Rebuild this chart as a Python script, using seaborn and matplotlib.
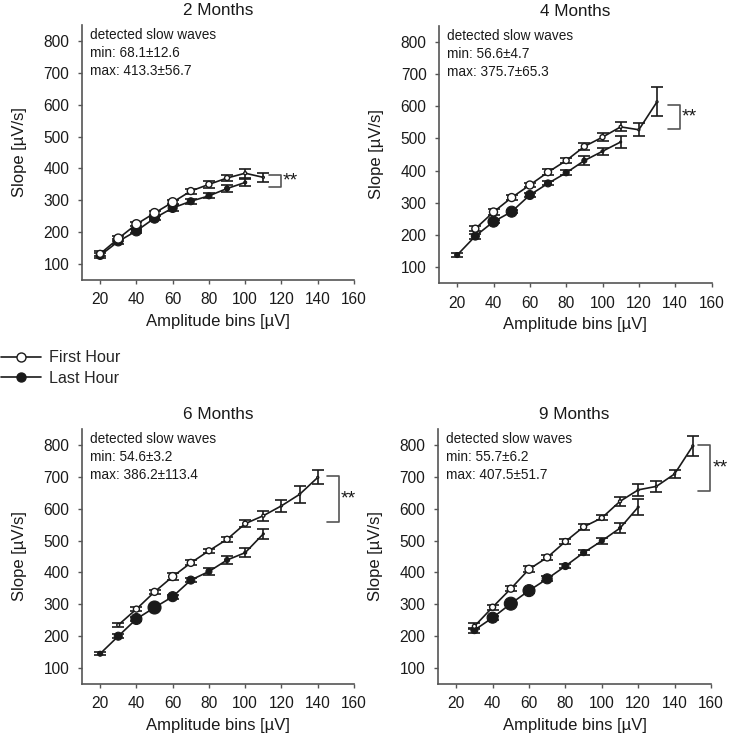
import numpy as np
import pandas as pd
import matplotlib
matplotlib.use("Agg")
import matplotlib.pyplot as plt
import seaborn as sns
from matplotlib.lines import Line2D

sns.set_style("ticks")
plt.rcParams["font.family"] = ["Liberation Sans", "DejaVu Sans"]

# ---------------- data ----------------
titles = ["2 Months", "4 Months", "6 Months", "9 Months"]
wave_min = ["68.1\u00b112.6", "56.6\u00b14.7", "54.6\u00b13.2", "55.7\u00b16.2"]
wave_max = ["413.3\u00b156.7", "375.7\u00b165.3", "386.2\u00b1113.4", "407.5\u00b151.7"]

# 2 Months
m2_first_bins = [20, 30, 40, 50, 60, 70, 80, 90, 100, 110]
m2_first_mean = [132, 180, 225, 260, 294, 329, 350, 370, 385, 372]
m2_first_err = [8, 8, 6, 6, 6, 8, 10, 8, 14, 14]
m2_last_bins = [20, 30, 40, 50, 60, 70, 80, 90, 100]
m2_last_mean = [127, 171, 204, 244, 276, 297, 314, 337, 356]
m2_last_err = [8, 7, 7, 7, 8, 7, 8, 10, 12]

# 4 Months
m4_first_bins = [30, 40, 50, 60, 70, 80, 90, 100, 110, 120, 130]
m4_first_mean = [219, 271, 316, 355, 395, 431, 475, 504, 536, 527, 614]
m4_first_err = [8, 9, 8, 7, 10, 7, 10, 12, 14, 20, 45]
m4_last_bins = [20, 30, 40, 50, 60, 70, 80, 90, 100, 110]
m4_last_mean = [137, 196, 241, 272, 324, 360, 393, 431, 460, 489]
m4_last_err = [5, 8, 5, 5, 6, 6, 8, 13, 10, 18]

# 6 Months
m6_first_bins = [30, 40, 50, 60, 70, 80, 90, 100, 110, 120, 130, 140]
m6_first_mean = [235, 285, 339, 387, 430, 468, 504, 553, 578, 609, 645, 698]
m6_first_err = [6, 6, 6, 10, 8, 6, 8, 10, 16, 18, 27, 22]
m6_last_bins = [20, 30, 40, 50, 60, 70, 80, 90, 100, 110]
m6_last_mean = [145, 200, 254, 290, 324, 376, 403, 439, 462, 521]
m6_last_err = [5, 6, 6, 6, 6, 6, 10, 14, 14, 15]

# 9 Months
m9_first_bins = [30, 40, 50, 60, 70, 80, 90, 100, 110, 120, 130, 140, 150]
m9_first_mean = [231, 291, 349, 410, 447, 497, 543, 571, 623, 659, 670, 709, 797]
m9_first_err = [10, 8, 7, 9, 8, 7, 10, 8, 15, 20, 18, 13, 32]
m9_last_bins = [30, 40, 50, 60, 70, 80, 90, 100, 110, 120]
m9_last_mean = [219, 258, 302, 343, 380, 420, 462, 499, 539, 605]
m9_last_err = [8, 6, 6, 6, 8, 6, 8, 10, 15, 25]

# ---------------- styles (marker diameters in px) ----------------
m2_first_ms = [7, 9, 9, 9, 9, 7, 6, 5, 3, 2]
m2_last_ms = [8, 9, 10, 10, 9, 7, 6, 5, 3]
m4_first_ms = [7, 8, 8, 8, 7, 6, 6, 5, 3, 2, 2]
m4_last_ms = [5, 8, 11, 11, 9, 7, 6, 5, 3, 2]
m6_first_ms = [3, 6, 7, 8, 7, 6, 6, 5, 3, 2, 2, 2]
m6_last_ms = [5, 8, 11, 13, 10, 8, 6, 5, 3, 2]
m9_first_ms = [4, 6, 7, 8, 7, 6, 6, 5, 3, 2, 2, 2, 2]
m9_last_ms = [7, 11, 13, 12, 10, 7, 6, 5, 3, 2]

panels = [
    (m2_first_bins, m2_first_mean, m2_first_err, m2_first_ms,
     m2_last_bins, m2_last_mean, m2_last_err, m2_last_ms),
    (m4_first_bins, m4_first_mean, m4_first_err, m4_first_ms,
     m4_last_bins, m4_last_mean, m4_last_err, m4_last_ms),
    (m6_first_bins, m6_first_mean, m6_first_err, m6_first_ms,
     m6_last_bins, m6_last_mean, m6_last_err, m6_last_ms),
    (m9_first_bins, m9_first_mean, m9_first_err, m9_first_ms,
     m9_last_bins, m9_last_mean, m9_last_err, m9_last_ms),
]

# significance brackets: (x0, x1, y_top, y_bottom)
brackets = [(113, 119.5, 378, 343), (136, 142.5, 605, 530),
            (145, 151.5, 702, 557), (153, 159.7, 800, 656)]

axes_rects = [
    (82 / 730, 1 - 280 / 740, 272 / 730, 255 / 740),
    (439 / 730, 1 - 283 / 740, 272.5 / 730, 257 / 740),
    (82 / 730, 1 - 684 / 740, 272 / 730, 255 / 740),
    (438 / 730, 1 - 684 / 740, 273 / 730, 255 / 740),
]

DPI = 100
px2pt = 72 / DPI
ink = "#1a1a1a"
spine_col = "#555555"

fig = plt.figure(figsize=(7.3, 7.4), dpi=DPI)

for i, rect in enumerate(axes_rects):
    ax = fig.add_axes(rect)
    fb, fm, fe, fms, lb, lm, le, lms = panels[i]
    df_f = pd.DataFrame({"bin": fb, "slope": fm})
    df_l = pd.DataFrame({"bin": lb, "slope": lm})

    for df, err in ((df_f, fe), (df_l, le)):
        sns.lineplot(data=df, x="bin", y="slope", ax=ax, color=ink, lw=1.2,
                     estimator=None, sort=False, legend=False, zorder=2)
        ax.errorbar(df["bin"], df["slope"], yerr=err, fmt="none", ecolor=ink,
                    elinewidth=1.2, capsize=4.2, capthick=1.2, zorder=3)

    sns.scatterplot(data=df_l, x="bin", y="slope", ax=ax, color=ink,
                    s=[(d * px2pt) ** 2 for d in lms], edgecolor=ink,
                    linewidth=0.8, legend=False, zorder=4)
    sns.scatterplot(data=df_f, x="bin", y="slope", ax=ax, color="white",
                    s=[(d * px2pt) ** 2 for d in fms], edgecolor=ink,
                    linewidth=1.0, legend=False, zorder=5)

    x0, x1, yt, yb = brackets[i]
    ax.plot([x0, x1, x1, x0], [yt, yt, yb, yb], color=spine_col, lw=1.2,
            clip_on=False, zorder=3)
    ax.text(x1 + 1.0, (yt + yb) / 2, "**", fontsize=14, ha="left",
            va="center", color=ink, clip_on=False)

    ax.set_xlim(10, 160)
    ax.set_ylim(50, 850)
    ax.set_xticks(range(20, 161, 20))
    ax.set_yticks(range(100, 801, 100))
    ax.tick_params(axis="both", labelsize=11.2, length=3, width=1,
                   color=spine_col, labelcolor=ink, direction="out")
    ax.tick_params(axis="y", pad=6)
    ax.tick_params(axis="x", pad=6)
    sns.despine(ax=ax)
    for sp in ("left", "bottom"):
        ax.spines[sp].set_color(spine_col)
        ax.spines[sp].set_linewidth(1.2)
    ax.set_xlabel("Amplitude bins [\u00b5V]", fontsize=12, color=ink, labelpad=5)
    ax.set_ylabel("Slope [\u00b5V/s]", fontsize=12, color=ink, labelpad=12)
    ax.set_title(titles[i], fontsize=12.3, color=ink, pad=7)
    ax.text(0.03, 0.99, "detected slow waves\nmin: " + wave_min[i]
            + "\nmax: " + wave_max[i], transform=ax.transAxes, fontsize=9.8,
            va="top", ha="left", color=ink, linespacing=1.38)

handles = [
    Line2D([0], [0], color=ink, lw=1.2, marker="o", markersize=9 * px2pt,
           markerfacecolor="white", markeredgecolor=ink, markeredgewidth=1),
    Line2D([0], [0], color=ink, lw=1.2, marker="o", markersize=9 * px2pt,
           markerfacecolor=ink, markeredgecolor=ink),
]
fig.legend(handles, ["First Hour", "Last Hour"], loc="center left",
           bbox_to_anchor=(-0.01, 1 - 368 / 740), frameon=False,
           fontsize=11.6, handlelength=2.5, handletextpad=0.5,
           labelspacing=0.35, borderpad=0)

fig.savefig("out.png", dpi=DPI)
